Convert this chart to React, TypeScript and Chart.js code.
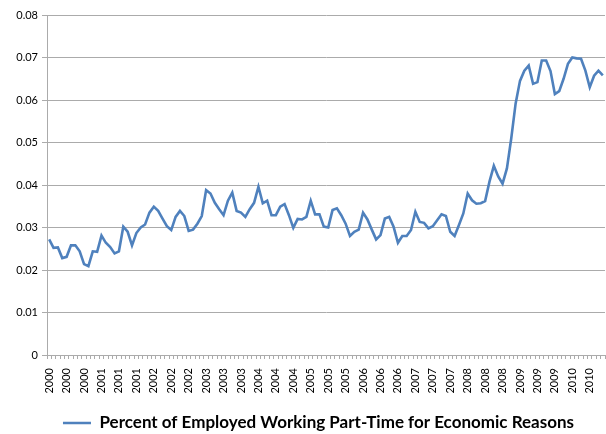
import { useEffect, useRef } from "react"
import { Chart, registerables } from "chart.js"

Chart.register(...registerables)

// monthly share of employed working part-time for economic reasons
const v2000 = [0.0272, 0.0252, 0.0253, 0.0228, 0.0231, 0.0258, 0.0258, 0.0244, 0.0214, 0.0209, 0.0244, 0.0243]
const v2001 = [0.0281, 0.0264, 0.0254, 0.0239, 0.0244, 0.0302, 0.029, 0.0258, 0.0287, 0.03, 0.0307, 0.0335]
const v2002 = [0.0349, 0.0339, 0.0321, 0.0303, 0.0294, 0.0325, 0.0339, 0.0327, 0.0292, 0.0295, 0.0309, 0.0327]
const v2003 = [0.0388, 0.038, 0.0358, 0.0343, 0.0329, 0.0363, 0.0382, 0.0339, 0.0335, 0.0325, 0.0343, 0.0358]
const v2004 = [0.0396, 0.0357, 0.0363, 0.0329, 0.0329, 0.0349, 0.0355, 0.0329, 0.0299, 0.032, 0.0319, 0.0325]
const v2005 = [0.0363, 0.0331, 0.0331, 0.0302, 0.03, 0.0341, 0.0345, 0.0329, 0.0309, 0.028, 0.029, 0.0295]
const v2006 = [0.0335, 0.0319, 0.0295, 0.0272, 0.0282, 0.0321, 0.0325, 0.0302, 0.0264, 0.028, 0.028, 0.0294]
const v2007 = [0.0337, 0.0313, 0.0311, 0.0298, 0.0303, 0.0317, 0.0331, 0.0327, 0.029, 0.028, 0.0306, 0.0333]
const v2008 = [0.038, 0.0364, 0.0356, 0.0357, 0.0362, 0.0408, 0.0445, 0.042, 0.0403, 0.0439, 0.051, 0.0592]
const v2009 = [0.0645, 0.0669, 0.0681, 0.0638, 0.0642, 0.0693, 0.0693, 0.0668, 0.0614, 0.0621, 0.065, 0.0685]
const v2010 = [0.07, 0.0698, 0.0697, 0.0669, 0.063, 0.0657, 0.0669, 0.0658]

const years = ["2000", "2001", "2002", "2003", "2004", "2005", "2006", "2007", "2008", "2009", "2010"]
const yearly = [v2000, v2001, v2002, v2003, v2004, v2005, v2006, v2007, v2008, v2009, v2010]

const values: number[] = []
const labels: string[] = []
yearly.forEach((arr, k) => {
  arr.forEach((v) => {
    values.push(v)
    labels.push(years[k])
  })
})

const seriesName = "Percent of Employed Working Part-Time for Economic Reasons"
const gridColor = "#ababab"

// the legend in the original sits a bit right of centre
const shiftLegend = {
  id: "shiftLegend",
  afterLayout(chart: any) {
    if (!chart.legend) return
    chart.legend.left += 16
    chart.legend.right += 16
  },
}

export default function App() {
  const canvasRef = useRef<HTMLCanvasElement>(null)

  useEffect(() => {
    if (!canvasRef.current) return
    const chart = new Chart(canvasRef.current, {
      type: "line",
      data: {
        labels,
        datasets: [
          {
            label: seriesName,
            data: values,
            borderColor: "#4F81BD",
            backgroundColor: "#4F81BD",
            borderWidth: 2.6,
            pointRadius: 0,
            tension: 0,
          },
        ],
      },
      options: {
        animation: false,
        responsive: true,
        maintainAspectRatio: false,
        layout: { padding: { top: 15, right: 1, left: 0, bottom: -7.5 } },
        plugins: {
          tooltip: { enabled: false },
          legend: {
            position: "bottom",
            labels: {
              usePointStyle: true,
              pointStyle: "line",
              pointStyleWidth: 28,
              color: "#000",
              padding: 2.5,
              font: { family: "Lato", size: 17, weight: "bold" },
            },
          },
        },
        scales: {
          x: {
            offset: true,
            grid: {
              display: true,
              drawOnChartArea: false,
              drawTicks: true,
              tickLength: 4,
              offset: true,
              color: gridColor,
            },
            border: { display: true, color: gridColor },
            ticks: {
              autoSkip: false,
              maxRotation: 90,
              minRotation: 90,
              padding: 9,
              color: "#000",
              font: { family: "Lato", size: 11 },
              callback: (_v, i) => (i % 4 === 0 ? labels[i] : ""),
            },
            afterFit: (scale) => {
              scale.height = 57
              scale.paddingLeft = 0
              scale.paddingRight = 0
            },
          },
          y: {
            min: 0,
            max: 0.08,
            grid: { color: gridColor, tickLength: 5 },
            border: { display: true, color: gridColor },
            ticks: {
              stepSize: 0.01,
              padding: 4,
              color: "#000",
              font: { family: "Lato", size: 11 },
              callback: (v) => String(Math.round(Number(v) * 100) / 100),
            },
            afterFit: (scale) => {
              scale.width = 47
              scale.paddingTop = 0
              scale.paddingBottom = 0
            },
          },
        },
      },
      plugins: [shiftLegend],
    })
    return () => chart.destroy()
  }, [])

  return (
    <div style={{ position: "absolute", left: 0, top: 0, width: 606, height: 434, background: "#fff" }}>
      <canvas ref={canvasRef} />
    </div>
  )
}
